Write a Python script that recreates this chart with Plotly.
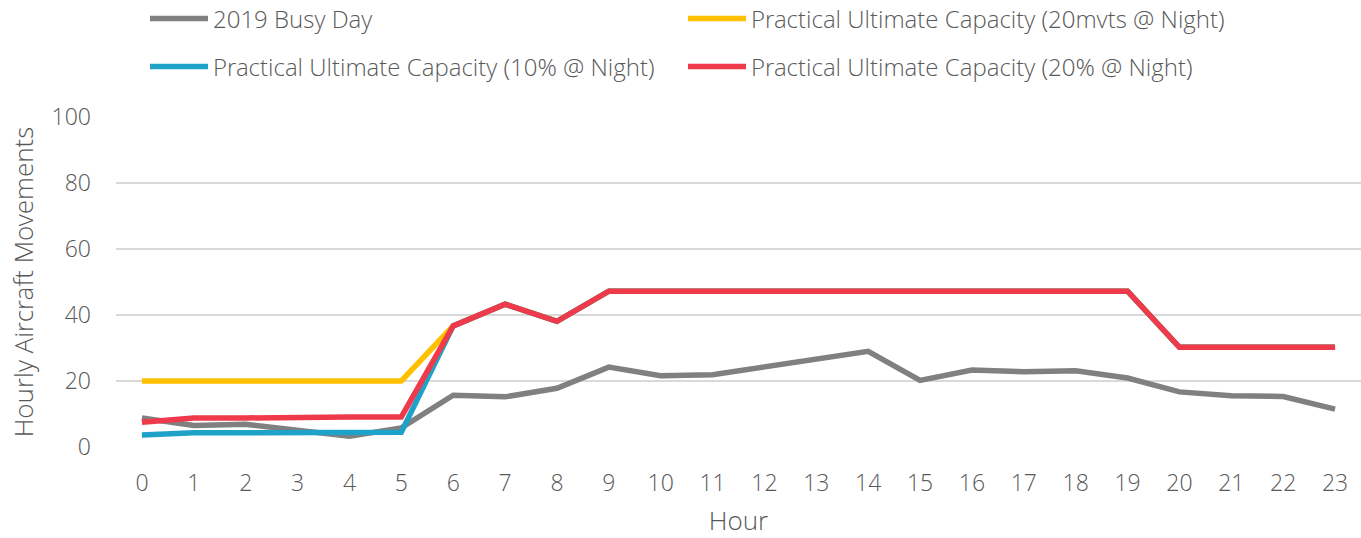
import plotly.graph_objects as go

hours = list(range(24))
hour_labels = [str(h) for h in hours]

busy_2019 = [8.8, 6.5, 6.9, 5.2, 3.3, 5.8, 15.7, 15.2, 17.8, 24.2, 21.6, 21.9, 24.2, 26.5, 29.0,
             20.2, 23.3, 22.8, 23.1, 20.9, 16.7, 15.5, 15.3, 11.5]
puc_20mvts = [20, 20, 20, 20, 20, 20, 36.7, 43.3, 38.1, 47.2, 47.2, 47.2, 47.2, 47.2, 47.2,
              47.2, 47.2, 47.2, 47.2, 47.2, 30.2, 30.2, 30.2, 30.2]
puc_10pct = [3.6, 4.3, 4.3, 4.4, 4.5, 4.5, 36.7, 43.3, 38.1, 47.2, 47.2, 47.2, 47.2, 47.2, 47.2,
             47.2, 47.2, 47.2, 47.2, 47.2, 30.2, 30.2, 30.2, 30.2]
puc_20pct = [7.5, 8.8, 8.8, 9.1, 9.1, 9.1, 36.7, 43.3, 38.1, 47.2, 47.2, 47.2, 47.2, 47.2, 47.2,
             47.2, 47.2, 47.2, 47.2, 47.2, 30.2, 30.2, 30.2, 30.2]

series_names = [
    "2019 Busy Day",
    "Practical Ultimate Capacity (20mvts @ Night)",
    "Practical Ultimate Capacity (10% @ Night)",
    "Practical Ultimate Capacity (20% @ Night)",
]
series_values = [busy_2019, puc_20mvts, puc_10pct, puc_20pct]
series_colors = ["#808080", "#FFC000", "#1FA2C8", "#EE3A4A"]

FONT = "Open Sans Light, Open Sans"
TXT = "#595959"

W, H = 1361, 538
# legend placement (column x, row y) in figure pixels
legend_ids = ["legend", "legend2", "legend3", "legend4"]
legend_pos = [(145, 19), (683, 19), (145, 67), (683, 67)]

fig = go.Figure()
for name, vals, color, lg in zip(series_names, series_values, series_colors, legend_ids):
    fig.add_trace(go.Scatter(
        x=hours, y=vals, name=name, mode="lines",
        line=dict(color=color, width=5.5),
        legend=lg,
    ))

legend_layout = {}
for lg, (lx, ly) in zip(legend_ids, legend_pos):
    legend_layout[lg] = dict(
        orientation="h", xref="container", yref="container",
        xanchor="left", yanchor="middle",
        x=lx / W, y=1 - ly / H,
        font=dict(family=FONT, size=24, color=TXT, weight=300),
        itemwidth=58, bgcolor="rgba(0,0,0,0)",
    )

fig.update_layout(
    width=W, height=H,
    margin=dict(l=116, r=0, t=117, b=91),
    paper_bgcolor="white", plot_bgcolor="white",
    font=dict(family=FONT, color=TXT, weight=300),
    showlegend=True,
    **legend_layout,
    xaxis=dict(
        tickmode="array", tickvals=hours, ticktext=hour_labels,
        range=[-0.5, 23.5], showgrid=False, zeroline=False, showline=False,
        ticks="", automargin=False,
        tickfont=dict(family=FONT, size=23, color=TXT, weight=300),
        title=dict(text="Hour", font=dict(family=FONT, size=26, color=TXT, weight=300), standoff=19),
        ticklabelstandoff=20,
    ),
    yaxis=dict(
        range=[0, 100], tickvals=[0, 20, 40, 60, 80, 100],
        showgrid=True, gridcolor="#D9D9D9", gridwidth=1.5,
        zeroline=False, showline=False, ticks="", automargin=False,
        tickfont=dict(family=FONT, size=23, color=TXT, weight=300),
        title=dict(text="Hourly Aircraft Movements", font=dict(family=FONT, size=26, color=TXT, weight=300), standoff=10),
        ticklabelstandoff=24,
    ),
)

fig.write_html("out.html", config={"displayModeBar": False},
               post_script="document.body.style.margin='0';")
